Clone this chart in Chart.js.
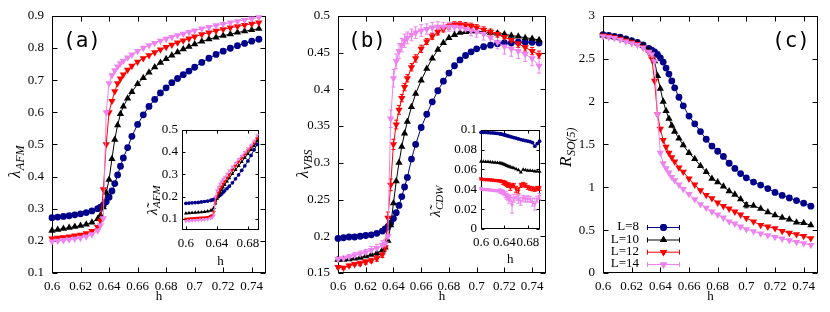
<!DOCTYPE html>
<html>
<head>
<meta charset="utf-8">
<script src="https://cdn.jsdelivr.net/npm/chart.js@4.4.0/dist/chart.umd.min.js"></script>
<style>
body{margin:0;background:#fff;}
#wrap{position:relative;width:830px;height:312px;overflow:hidden;background:#fff;}
canvas{position:absolute;}
</style>
</head>
<body>
<div id="wrap">
<canvas id="chartA" style="left:0px;top:0px" width="277" height="312"></canvas>
<canvas id="chartB" style="left:277px;top:0px" width="277" height="312"></canvas>
<canvas id="chartC" style="left:554px;top:0px" width="276" height="312"></canvas>
<canvas id="insetA" style="left:140px;top:118px" width="126" height="150"></canvas>
<canvas id="insetB" style="left:430px;top:118px" width="116" height="150"></canvas>
</div>
<script>
// h grid shared by all curves
const h = [0.600,0.604,0.608,0.612,0.616,0.620,0.624,0.628,0.632,0.634,0.636,0.638,0.640,0.642,0.644,0.646,0.648,0.650,0.653,0.656,
           0.660,0.664,0.668,0.672,0.676,0.680,0.684,0.688,0.692,0.696,0.700,0.705,0.710,0.715,0.720,0.725,0.730,0.735,0.740,0.745];

// (a) lambda_AFM
const afmL8  = [0.272,0.274,0.276,0.278,0.281,0.284,0.288,0.293,0.300,0.305,0.312,0.322,0.336,0.355,0.378,0.405,0.432,0.458,0.490,0.525,0.562,0.592,0.618,0.640,0.660,0.676,0.692,0.705,0.717,0.728,0.740,0.755,0.768,0.780,0.790,0.799,0.807,0.814,0.821,0.827];
const afmL10 = [0.232,0.235,0.238,0.241,0.244,0.247,0.251,0.257,0.268,0.280,0.305,0.350,0.390,0.455,0.515,0.560,0.595,0.618,0.643,0.663,0.688,0.707,0.724,0.740,0.754,0.766,0.777,0.787,0.796,0.804,0.812,0.820,0.827,0.833,0.838,0.843,0.848,0.852,0.856,0.860];
const afmL12 = [0.207,0.209,0.211,0.213,0.216,0.219,0.223,0.230,0.243,0.262,0.360,0.500,0.600,0.635,0.665,0.690,0.705,0.717,0.732,0.744,0.757,0.768,0.777,0.786,0.795,0.803,0.810,0.817,0.823,0.829,0.835,0.842,0.848,0.853,0.858,0.863,0.867,0.871,0.875,0.879];
const afmL14 = [0.198,0.200,0.202,0.204,0.206,0.209,0.213,0.220,0.232,0.248,0.270,0.600,0.690,0.715,0.730,0.742,0.752,0.760,0.770,0.779,0.790,0.800,0.808,0.815,0.822,0.828,0.834,0.839,0.844,0.849,0.854,0.860,0.865,0.870,0.874,0.879,0.883,0.887,0.891,0.895];

// (a) inset, tilde lambda_AFM (h up to 0.692)
const tAfmL8  = [0.170,0.171,0.172,0.173,0.174,0.176,0.178,0.180,0.183,0.185,0.187,0.190,0.195,0.200,0.206,0.212,0.219,0.226,0.236,0.247,0.262,0.280,0.298,0.318,0.338,0.360,0.385,0.410,0.435];
const tAfmL10 = [0.125,0.126,0.127,0.128,0.129,0.130,0.132,0.134,0.137,0.140,0.150,0.170,0.190,0.205,0.218,0.230,0.242,0.253,0.268,0.283,0.302,0.320,0.338,0.356,0.374,0.392,0.410,0.428,0.450];
const tAfmL12 = [0.100,0.101,0.102,0.103,0.104,0.105,0.106,0.108,0.112,0.116,0.130,0.175,0.200,0.218,0.232,0.245,0.257,0.268,0.284,0.300,0.320,0.338,0.356,0.373,0.390,0.407,0.424,0.442,0.462];
const tAfmL14 = [0.090,0.091,0.092,0.093,0.094,0.095,0.096,0.098,0.102,0.106,0.115,0.200,0.228,0.244,0.257,0.268,0.278,0.288,0.302,0.316,0.334,0.351,0.368,0.384,0.400,0.416,0.432,0.450,0.475];

// (b) lambda_VBS
const vbsL8  = [0.197,0.198,0.199,0.199,0.200,0.201,0.202,0.204,0.207,0.210,0.213,0.218,0.224,0.232,0.242,0.254,0.267,0.280,0.305,0.325,0.348,0.366,0.383,0.398,0.411,0.422,0.432,0.440,0.446,0.451,0.455,0.458,0.460,0.462,0.463,0.463,0.464,0.464,0.464,0.463];
const vbsL10 = [0.168,0.168,0.169,0.170,0.171,0.173,0.175,0.177,0.181,0.185,0.194,0.215,0.245,0.275,0.300,0.322,0.340,0.356,0.376,0.394,0.412,0.428,0.442,0.454,0.463,0.470,0.474,0.477,0.478,0.479,0.479,0.478,0.477,0.476,0.475,0.473,0.472,0.470,0.469,0.467];
const vbsL12 = [0.158,0.157,0.160,0.162,0.163,0.165,0.167,0.170,0.175,0.185,0.225,0.270,0.325,0.352,0.372,0.388,0.403,0.415,0.430,0.442,0.455,0.465,0.472,0.478,0.482,0.486,0.488,0.488,0.487,0.486,0.484,0.481,0.478,0.475,0.471,0.467,0.462,0.457,0.452,0.447];
const vbsL14 = [0.169,0.170,0.172,0.174,0.176,0.178,0.181,0.184,0.188,0.190,0.200,0.360,0.415,0.438,0.452,0.460,0.466,0.470,0.474,0.477,0.480,0.482,0.484,0.485,0.485,0.485,0.485,0.484,0.482,0.480,0.478,0.475,0.470,0.464,0.458,0.455,0.452,0.448,0.442,0.432];
const vbsL12Err = [0.002,0.002,0.002,0.002,0.003,0.003,0.003,0.004,0.004,0.005,0.008,0.008,0.007,0.006,0.006,0.005,0.005,0.005,0.005,0.005,0.005,0.004,0.004,0.004,0.004,0.004,0.004,0.004,0.004,0.004,0.004,0.004,0.004,0.004,0.005,0.005,0.005,0.005,0.005,0.005];
const vbsL14Err = [0.003,0.003,0.003,0.004,0.004,0.004,0.005,0.005,0.006,0.006,0.008,0.012,0.012,0.010,0.010,0.009,0.009,0.008,0.008,0.008,0.008,0.007,0.007,0.007,0.006,0.006,0.006,0.006,0.006,0.007,0.007,0.008,0.009,0.009,0.010,0.010,0.010,0.010,0.010,0.010];

// (b) inset, tilde lambda_CDW (h up to 0.700)
const cdwL8  = [0.0975,0.0975,0.0973,0.0972,0.0970,0.0968,0.0966,0.0963,0.0960,0.0958,0.0955,0.0952,0.0950,0.0946,0.0942,0.0938,0.0935,0.0932,0.0927,0.0922,0.0915,0.0908,0.0902,0.0895,0.0890,0.0886,0.0880,0.0870,0.0835,0.0860,0.0885];
const cdwL10 = [0.0680,0.0680,0.0678,0.0677,0.0675,0.0673,0.0670,0.0668,0.0665,0.0663,0.0660,0.0655,0.0650,0.0645,0.0640,0.0635,0.0630,0.0625,0.0620,0.0615,0.0605,0.0595,0.0570,0.0600,0.0595,0.0590,0.0588,0.0585,0.0582,0.0580,0.0578];
const cdwL12 = [0.0505,0.0500,0.0498,0.0497,0.0495,0.0493,0.0490,0.0488,0.0485,0.0483,0.0478,0.0470,0.0465,0.0460,0.0450,0.0440,0.0445,0.0420,0.0435,0.0440,0.0400,0.0385,0.0440,0.0450,0.0440,0.0420,0.0410,0.0405,0.0400,0.0410,0.0410];
const cdwL14 = [0.0405,0.0400,0.0398,0.0396,0.0393,0.0390,0.0388,0.0385,0.0383,0.0380,0.0375,0.0370,0.0360,0.0345,0.0330,0.0320,0.0300,0.0310,0.0240,0.0310,0.0320,0.0300,0.0280,0.0310,0.0300,0.0305,0.0300,0.0270,0.0250,0.0300,0.0330];
const cdwL12Err = [0.001,0.001,0.001,0.001,0.001,0.001,0.001,0.001,0.001,0.001,0.001,0.002,0.002,0.002,0.002,0.002,0.002,0.003,0.002,0.002,0.003,0.003,0.002,0.002,0.002,0.002,0.002,0.002,0.002,0.002,0.002];
const cdwL14Err = [0.001,0.001,0.001,0.001,0.001,0.001,0.001,0.001,0.002,0.002,0.002,0.002,0.002,0.003,0.003,0.003,0.004,0.003,0.008,0.004,0.003,0.004,0.004,0.003,0.003,0.003,0.003,0.004,0.006,0.003,0.003];

// (c) R_SO(5)
const rL8  = [2.78,2.77,2.76,2.75,2.73,2.71,2.69,2.66,2.62,2.60,2.58,2.55,2.51,2.46,2.39,2.32,2.24,2.16,2.05,1.95,1.83,1.74,1.65,1.56,1.48,1.42,1.36,1.28,1.22,1.16,1.11,1.06,1.025,0.985,0.94,0.905,0.875,0.845,0.815,0.78];
const rL10 = [2.77,2.76,2.75,2.74,2.72,2.70,2.68,2.65,2.60,2.56,2.47,2.30,2.15,2.00,1.89,1.80,1.72,1.65,1.57,1.49,1.40,1.33,1.25,1.18,1.10,1.06,1.01,0.955,0.915,0.86,0.79,0.785,0.75,0.71,0.675,0.645,0.625,0.59,0.585,0.557];
const rL12 = [2.77,2.76,2.75,2.73,2.71,2.69,2.67,2.63,2.57,2.50,2.24,1.85,1.68,1.55,1.47,1.40,1.35,1.30,1.23,1.18,1.10,1.03,0.965,0.91,0.87,0.82,0.78,0.75,0.715,0.68,0.64,0.60,0.56,0.54,0.52,0.49,0.467,0.45,0.43,0.405];
const rL14 = [2.76,2.75,2.74,2.72,2.70,2.68,2.66,2.63,2.58,2.55,2.47,1.85,1.40,1.28,1.22,1.17,1.12,1.08,1.03,0.98,0.92,0.86,0.80,0.76,0.715,0.68,0.645,0.60,0.575,0.54,0.51,0.485,0.46,0.44,0.42,0.40,0.38,0.36,0.345,0.325];
const rL10Err = [0,0,0,0,0,0,0,0,0,0,0,0,0,0,0,0,0,0,0,0,0,0,0,0,0,0,0,0,0,0,0.03,0,0,0,0,0,0,0,0,0];

// tick labels
const hTicks = [0.6,0.62,0.64,0.66,0.68,0.7,0.72,0.74];
const afmTicks = [0.1,0.2,0.3,0.4,0.5,0.6,0.7,0.8,0.9];
const vbsTicks = [0.15,0.2,0.25,0.3,0.35,0.4,0.45,0.5];
const rTicks = [0,0.5,1,1.5,2,2.5,3];
const insetHTicks = [0.6,0.64,0.68];
const tAfmTicks = [0.1,0.2,0.3,0.4,0.5];
const cdwTicks = [0,0.02,0.04,0.06,0.08,0.1];
const labelsL = ['L=8','L=10','L=12','L=14'];

const SERIF = "Liberation Serif, Times New Roman, serif";
const STYLE = [
  {color:'#00008b', style:'circle',   rot:0,   r:3.4},
  {color:'#000000', style:'triangle', rot:0,   r:4.2},
  {color:'#ff0000', style:'triangle', rot:180, r:4.2},
  {color:'#ee82ee', style:'triangle', rot:180, r:4.2}
];

function fmt(v){ return String(Math.round(v*1000)/1000); }

function sets(list, errs, scale){
  return list.map((ys,k)=>{
    const s = STYLE[k];
    return {
      label: labelsL[k],
      data: ys.map((v,i)=>({x:h[i], y:v})),
      errs: errs ? errs[k] : null,
      borderColor: s.color, backgroundColor: s.color,
      borderWidth: 1, showLine: true,
      pointStyle: s.style, rotation: s.rot,
      pointRadius: s.r*scale, pointBorderWidth: 0, pointHoverRadius: s.r*scale,
      clip: false, order: 3-k
    };
  });
}

function drawRot(ctx, x, y, main, sub, size){
  ctx.save();
  ctx.translate(x, y);
  ctx.rotate(-Math.PI/2);
  ctx.fillStyle = '#000';
  ctx.textBaseline = 'alphabetic';
  ctx.textAlign = 'left';
  ctx.font = 'italic ' + size + 'px ' + SERIF;
  ctx.fillText(main, 0, 0);
  const w = ctx.measureText(main).width;
  ctx.font = 'italic ' + Math.round(size*0.7) + 'px ' + SERIF;
  ctx.fillText(sub, w + 0.5, size*0.22);
  ctx.restore();
}

const errbars = {
  id: 'errbars',
  beforeDatasetsDraw(chart){
    const {ctx, scales:{x, y}} = chart;
    chart.data.datasets.forEach(ds=>{
      if(!ds.errs) return;
      ctx.save();
      ctx.strokeStyle = ds.borderColor;
      ctx.lineWidth = 1;
      ctx.beginPath();
      ds.data.forEach((p,i)=>{
        const e = ds.errs[i];
        if(!e) return;
        const px = x.getPixelForValue(p.x);
        const y1 = y.getPixelForValue(p.y - e), y2 = y.getPixelForValue(p.y + e);
        ctx.moveTo(px, y1); ctx.lineTo(px, y2);
        ctx.moveTo(px-2, y1); ctx.lineTo(px+2, y1);
        ctx.moveTo(px-2, y2); ctx.lineTo(px+2, y2);
      });
      ctx.stroke();
      ctx.restore();
    });
  }
};

const frame = {
  id: 'frame',
  beforeDatasetsDraw(chart, args, o){
    const {ctx, chartArea:a, scales:{x, y}} = chart;
    ctx.save();
    ctx.strokeStyle = '#000';
    ctx.lineWidth = 1;
    const L = Math.round(a.left)+0.5, R = Math.round(a.right)-0.5, T = Math.round(a.top)+0.5, B = Math.round(a.bottom)-0.5;
    ctx.strokeRect(L, T, R-L, B-T);
    ctx.beginPath();
    x.ticks.forEach(t=>{
      const p = Math.round(x.getPixelForValue(t.value))+0.5;
      ctx.moveTo(p, B); ctx.lineTo(p, B-o.tick);
      ctx.moveTo(p, T); ctx.lineTo(p, T+o.tick);
    });
    y.ticks.forEach(t=>{
      const p = Math.round(y.getPixelForValue(t.value))+0.5;
      ctx.moveTo(L, p); ctx.lineTo(L+o.tick, p);
      ctx.moveTo(R, p); ctx.lineTo(R-o.tick, p);
    });
    ctx.stroke();
    ctx.restore();
  },
  afterDraw(chart, args, o){
    const {ctx, chartArea:a} = chart;
    ctx.save();
    ctx.fillStyle = '#000';
    if(o.ytitle) drawRot(ctx, o.ytitle.x, o.ytitle.y, o.ytitle.main, o.ytitle.sub, o.ytitle.size);
    if(o.xtitle){
      ctx.font = '13px ' + SERIF;
      ctx.textAlign = 'center';
      ctx.textBaseline = 'alphabetic';
      ctx.fillText('h', (a.left+a.right)/2, a.bottom + o.xtitle);
    }
    if(o.tag){
      ctx.font = "21px 'DejaVu Sans Mono', monospace";
      ctx.textAlign = 'left';
      ctx.textBaseline = 'alphabetic';
      ctx.fillText(o.tag.text, o.tag.x, o.tag.y);
    }
    if(o.legend){
      const g = o.legend;
      chart.data.datasets.forEach((ds,k)=>{
        const yy = g.rows[k];
        ctx.font = '13px ' + SERIF;
        ctx.textAlign = 'right';
        ctx.textBaseline = 'middle';
        ctx.fillStyle = '#000';
        ctx.fillText(ds.label, g.textRight, yy);
        ctx.strokeStyle = ds.borderColor;
        ctx.lineWidth = 1;
        ctx.beginPath();
        ctx.moveTo(g.x1, yy+0.5); ctx.lineTo(g.x2, yy+0.5);
        ctx.moveTo(g.x1+0.5, yy-2); ctx.lineTo(g.x1+0.5, yy+3);
        ctx.moveTo(g.x2-0.5, yy-2); ctx.lineTo(g.x2-0.5, yy+3);
        ctx.stroke();
        ctx.fillStyle = ds.backgroundColor;
        Chart.helpers.drawPoint(ctx, {pointStyle: ds.pointStyle, rotation: ds.rotation, radius: ds.pointRadius, borderWidth: 0}, (g.x1+g.x2)/2, yy+0.5);
        ctx.fill();
      });
    }
    ctx.restore();
  }
};

function opts(c){
  return {
    responsive: false, animation: false, devicePixelRatio: 1,
    layout: {padding: c.pad},
    plugins: {legend:{display:false}, tooltip:{enabled:false}, frame: c.deco},
    scales: {
      x: {
        type: 'linear', min: c.xr[0], max: c.xr[1],
        grid: {display:false, drawTicks:false}, border: {display:false},
        afterBuildTicks: s=>{ s.ticks = c.xt.map(v=>({value:v})); },
        afterFit: s=>{ s.height = c.xh; },
        ticks: {autoSkip:false, maxRotation:0, color:'#000', padding:c.xpad, font:{family:SERIF, size:13}, callback: v=>fmt(v)}
      },
      y: {
        type: 'linear', min: c.yr[0], max: c.yr[1],
        grid: {display:false, drawTicks:false}, border: {display:false},
        afterBuildTicks: s=>{ s.ticks = c.yt.map(v=>({value:v})); },
        afterFit: s=>{ s.width = c.yw; },
        ticks: {autoSkip:false, color:'#000', padding:c.ypad, font:{family:SERIF, size:13}, callback: v=>fmt(v)}
      }
    }
  };
}

function make(id, datasets, c){
  return new Chart(document.getElementById(id), {type:'scatter', data:{datasets}, options: opts(c), plugins:[frame, errbars]});
}

make('chartA', sets([afmL8, afmL10, afmL12, afmL14], null, 1), {
  pad:{left:0, right:11, top:14, bottom:0}, xr:[0.6,0.75], yr:[0.1,0.9], xt:hTicks, yt:afmTicks,
  xh:39, yw:52, xpad:6, ypad:8,
  deco:{tick:5, ytitle:{x:20, y:178, main:'λ', sub:'AFM', size:17}, xtitle:27, tag:{text:'(a)', x:63, y:47}}
});

make('chartB', sets([vbsL8, vbsL10, vbsL12, vbsL14], [null, null, vbsL12Err, vbsL14Err], 1), {
  pad:{left:0, right:8, top:14, bottom:0}, xr:[0.6,0.75], yr:[0.15,0.5], xt:hTicks, yt:vbsTicks,
  xh:39, yw:61, xpad:6, ypad:8,
  deco:{tick:5, ytitle:{x:31, y:178, main:'λ', sub:'VBS', size:17}, xtitle:27, tag:{text:'(b)', x:71, y:47}}
});

make('chartC', sets([rL8, rL10, rL12, rL14], [null, rL10Err, null, null], 1), {
  pad:{left:0, right:12, top:14, bottom:0}, xr:[0.6,0.75], yr:[0,3], xt:hTicks, yt:rTicks,
  xh:39, yw:49, xpad:6, ypad:8,
  deco:{tick:5, ytitle:{x:17, y:167, main:'R', sub:'SO(5)', size:17}, xtitle:27, tag:{text:'(c)', x:218, y:47},
        legend:{textRight:85, x1:93, x2:126, rows:[227, 239.5, 251.7, 264]}}
});

make('insetA', sets([tAfmL8, tAfmL10, tAfmL12, tAfmL14], null, 0.55), {
  pad:{left:0, right:5, top:8, bottom:0}, xr:[0.595,0.694], yr:[0.05,0.5], xt:insetHTicks, yt:tAfmTicks,
  xh:38, yw:42, xpad:6, ypad:4,
  deco:{tick:3, ytitle:{x:17, y:97, main:'λ\u0303', sub:'AFM', size:15}, xtitle:35}
});

make('insetB', sets([cdwL8, cdwL10, cdwL12, cdwL14], [null, null, cdwL12Err, cdwL14Err], 0.55), {
  pad:{left:0, right:4, top:10, bottom:0}, xr:[0.6,0.7], yr:[0,0.1], xt:insetHTicks, yt:cdwTicks,
  xh:39, yw:51, xpad:6, ypad:4,
  deco:{tick:3, ytitle:{x:10, y:99, main:'λ\u0303', sub:'CDW', size:15}, xtitle:34}
});
</script>
</body>
</html>
